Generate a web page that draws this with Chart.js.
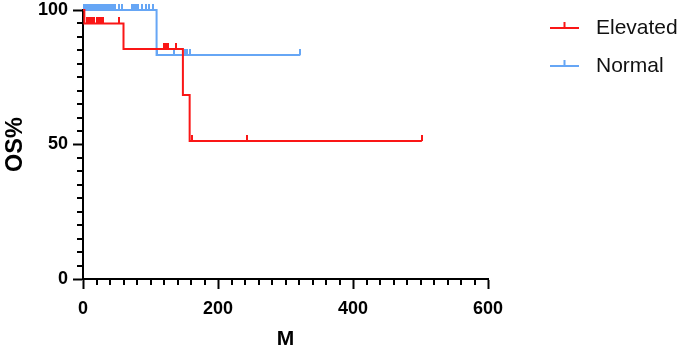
<!DOCTYPE html>
<html>
<head>
<meta charset="utf-8">
<script src="https://cdn.jsdelivr.net/npm/chart.js@4/dist/chart.umd.min.js"></script>
<style>
  html, body { margin: 0; padding: 0; background: #fff; }
  #wrap { width: 685px; height: 352px; }
</style>
</head>
<body>
<div id="wrap"><canvas id="c" width="685" height="352"></canvas></div>
<script>
// ---- data ----
const seriesNames = ['Elevated', 'Normal'];
const seriesColors = ['rgb(250,22,22)', 'rgb(102,166,245)'];

const elevatedTime = [0, 2, 60, 148, 158, 502];
const elevatedSurv = [100, 95, 85.5, 68.4, 51.3, 51.3];
const elevatedCensorTime = [6, 8, 11, 14, 17, 20, 23, 26, 29, 53, 120, 122, 124, 126, 138, 162, 243, 502];
const elevatedCensorSurv = [95, 95, 95, 95, 95, 95, 95, 95, 95, 95, 85.5, 85.5, 85.5, 85.5, 85.5, 51.3, 51.3, 51.3];

const normalTime = [0, 109, 322];
const normalSurv = [100, 83.3, 83.3];
const normalCensorTime = [1, 3, 5, 7, 9, 11, 13, 15, 17, 19, 21, 23, 25, 27, 29, 33, 36, 39, 42, 45, 48, 53, 58, 72, 75, 78, 81, 88, 93, 98, 104, 110, 135, 151, 154, 158, 322];
const normalCensorSurv = [100, 100, 100, 100, 100, 100, 100, 100, 100, 100, 100, 100, 100, 100, 100, 100, 100, 100, 100, 100, 100, 100, 100, 100, 100, 100, 100, 100, 100, 100, 100, 83.3, 83.3, 83.3, 83.3, 83.3, 83.3];

const xTicks = [0, 200, 400, 600];
const yTicks = [0, 50, 100];
const xMinorStep = 20;
const yMinorStep = 5;
const xTitle = 'M';
const yTitle = 'OS%';

// ---- helpers ----
const FONT = '"Liberation Sans", Arial, Helvetica, sans-serif';
function pts(xs, ys) { return xs.map((x, i) => ({ x: x, y: ys[i] })); }
function censorMark(color) {
  const c = document.createElement('canvas');
  c.width = 2; c.height = 12;
  const g = c.getContext('2d');
  g.fillStyle = color;
  g.fillRect(0, 0, 2, 6);
  return c;
}

const minorTicks = {
  id: 'minorTicks',
  afterDraw(chart) {
    const ctx = chart.ctx, xs = chart.scales.x, ys = chart.scales.y;
    const a = chart.chartArea;
    ctx.save();
    ctx.strokeStyle = '#000';
    ctx.lineWidth = 2;
    ctx.beginPath();
    for (let v = xs.min + xMinorStep; v < xs.max; v += xMinorStep) {
      if (xTicks.includes(v)) continue;
      const px = Math.round(xs.getPixelForValue(v));
      ctx.moveTo(px, a.bottom);
      ctx.lineTo(px, a.bottom + 6);
    }
    for (let v = ys.min + yMinorStep; v < ys.max; v += yMinorStep) {
      if (yTicks.includes(v)) continue;
      const py = Math.round(ys.getPixelForValue(v));
      ctx.moveTo(a.left, py);
      ctx.lineTo(a.left - 6, py);
    }
    ctx.stroke();
    ctx.restore();
  }
};

const kmLegend = {
  id: 'kmLegend',
  afterDraw(chart) {
    const ctx = chart.ctx, a = chart.chartArea;
    ctx.save();
    seriesNames.forEach((name, i) => {
      const y = a.top + 18 + i * 38;
      const x0 = a.right + 62, x1 = a.right + 91;
      ctx.strokeStyle = seriesColors[i];
      ctx.lineWidth = 2;
      ctx.beginPath();
      ctx.moveTo(x0, y); ctx.lineTo(x1, y);
      ctx.moveTo((x0 + x1) / 2, y); ctx.lineTo((x0 + x1) / 2, y - 6);
      ctx.stroke();
      ctx.fillStyle = '#111';
      ctx.font = '21px ' + FONT;
      ctx.textBaseline = 'middle';
      ctx.textAlign = 'left';
      ctx.fillText(name, a.right + 108, y);
    });
    ctx.restore();
  }
};

new Chart(document.getElementById('c'), {
  type: 'scatter',
  data: {
    datasets: [
      { label: seriesNames[0], data: pts(elevatedTime, elevatedSurv), showLine: true, stepped: true,
        borderColor: seriesColors[0], borderWidth: 2, pointRadius: 0, clip: false },
      { label: seriesNames[1], data: pts(normalTime, normalSurv), showLine: true, stepped: true,
        borderColor: seriesColors[1], borderWidth: 2, pointRadius: 0, clip: false },
      { label: seriesNames[0] + ' censored', data: pts(elevatedCensorTime, elevatedCensorSurv), showLine: false,
        pointStyle: censorMark(seriesColors[0]), pointRadius: 3, clip: false },
      { label: seriesNames[1] + ' censored', data: pts(normalCensorTime, normalCensorSurv), showLine: false,
        pointStyle: censorMark(seriesColors[1]), pointRadius: 3, clip: false }
    ]
  },
  options: {
    responsive: false,
    animation: false,
    layout: { padding: { top: 10, right: 197, left: 0, bottom: 0 } },
    plugins: { legend: { display: false }, tooltip: { enabled: false } },
    scales: {
      x: {
        type: 'linear', min: 0, max: 600,
        afterBuildTicks: s => { s.ticks = xTicks.map(v => ({ value: v })); },
        afterFit: s => { s.height = 73; s.paddingLeft = 0; s.paddingRight = 0; },
        ticks: { color: '#000', font: { family: FONT, size: 18, weight: 'bold' }, padding: 9, maxRotation: 0 },
        grid: { drawOnChartArea: false, drawTicks: true, tickLength: 10, tickWidth: 2, tickColor: '#000', color: '#000' },
        border: { color: '#000', width: 2 },
        title: { display: true, text: xTitle, color: '#000', font: { family: FONT, size: 21, weight: 'bold' }, padding: { top: 0, bottom: 0 } }
      },
      y: {
        type: 'linear', min: 0, max: 100,
        afterBuildTicks: s => { s.ticks = yTicks.map(v => ({ value: v })); },
        afterFit: s => { s.width = 83; s.paddingTop = 0; s.paddingBottom = 0; },
        ticks: { color: '#000', font: { family: FONT, size: 18, weight: 'bold' }, padding: 5 },
        grid: { drawOnChartArea: false, drawTicks: true, tickLength: 10, tickWidth: 2, tickColor: '#000', color: '#000' },
        border: { color: '#000', width: 2 },
        title: { display: true, text: yTitle, color: '#000', font: { family: FONT, size: 23.5, weight: 'bold' }, padding: { top: 1, bottom: 0 } }
      }
    }
  },
  plugins: [minorTicks, kmLegend]
});
</script>
</body>
</html>
